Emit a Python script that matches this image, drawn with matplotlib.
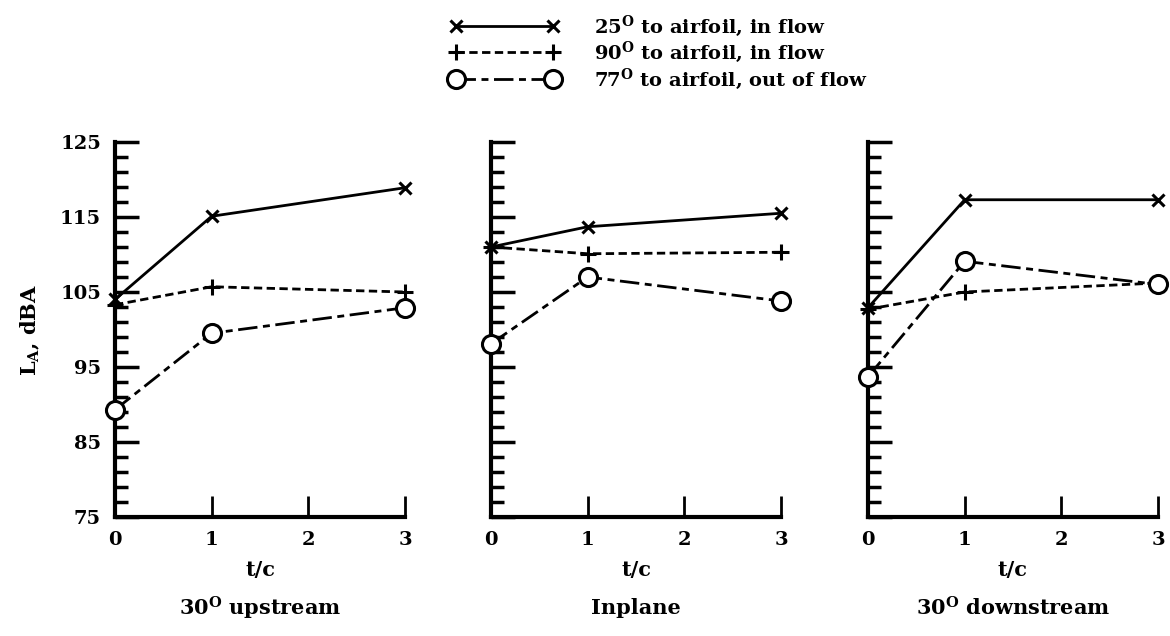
import matplotlib
matplotlib.use('Agg')
from matplotlib import pyplot as plt
from matplotlib.ticker import FixedLocator

plt.rcParams['font.family'] = 'DejaVu Serif'
plt.rcParams['font.weight'] = 'bold'
plt.rcParams['axes.labelweight'] = 'bold'
plt.rcParams['mathtext.fontset'] = 'dejavuserif'

# thickness ratio t/c
tc = [0, 1, 3]

panels = ["30$^\\mathbf{O}$ upstream", "Inplane", "30$^\\mathbf{O}$ downstream"]

# L_A (dBA) per microphone, one list per panel
mic25_in = [[104.0, 115.1, 118.9], [111.0, 113.7, 115.5], [102.9, 117.3, 117.3]]
mic90_in = [[103.3, 105.7, 105.0], [111.0, 110.1, 110.3], [102.7, 105.0, 106.2]]
mic77_out = [[89.3, 99.5, 102.9], [98.1, 107.0, 103.8], [93.7, 109.1, 106.0]]

labels = ["25$^\\mathbf{O}$ to airfoil, in flow",
          "90$^\\mathbf{O}$ to airfoil, in flow",
          "77$^\\mathbf{O}$ to airfoil, out of flow"]

yticks = [75, 85, 95, 105, 115, 125]
yminor = list(range(75, 126, 2))

fig = plt.figure(figsize=(11.7, 6.36), dpi=100)
lefts = [115 / 1170, 491 / 1170, 868 / 1170]
width = 290 / 1170
bottom = (636 - 517) / 636
height = 375 / 636

for i, left in enumerate(lefts):
    ax = fig.add_axes([left, bottom, width, height])
    h1, = ax.plot(tc, mic25_in[i], color='black', lw=2, ls='-',
                  marker='x', ms=8, mew=2.2, clip_on=False, zorder=3)
    h2, = ax.plot(tc, mic90_in[i], color='black', lw=2, ls=(0, (3, 1.6)),
                  marker='+', ms=11, mew=2.2, clip_on=False, zorder=3)
    h3, = ax.plot(tc, mic77_out[i], color='black', lw=2, ls=(0, (7, 2, 2.5, 2)),
                  marker='o', ms=13, mew=2.2, mfc='white', clip_on=False, zorder=4)
    ax.set_xlim(0, 3)
    ax.set_ylim(75, 125)
    for s in ['top', 'right']:
        ax.spines[s].set_visible(False)
    for s in ['left', 'bottom']:
        ax.spines[s].set_linewidth(3)
    ax.set_xticks([0, 1, 2, 3])
    ax.tick_params(axis='x', direction='in', length=15, width=2, labelsize=14, pad=10)
    ax.yaxis.set_major_locator(FixedLocator(yticks))
    ax.yaxis.set_minor_locator(FixedLocator(yminor))
    ax.tick_params(axis='y', which='major', direction='in', length=17, width=2.5, labelsize=14, pad=10)
    ax.tick_params(axis='y', which='minor', direction='in', length=9, width=2.5)
    if i > 0:
        ax.tick_params(axis='y', labelleft=False)
    ax.set_xlabel("t/c", fontsize=15, labelpad=8)
    fig.text(left + width / 2, 1 - 608 / 636, panels[i], ha='center', va='center', fontsize=15)

fig.text(30 / 1170, 1 - 330 / 636, "L$_\\mathbf{A}$, dBA", rotation=90,
         ha='center', va='center', fontsize=15)

fig.legend([h1, h2, h3], labels, loc='upper left', bbox_to_anchor=(450 / 1170, 1 - 14 / 636),
           frameon=False, numpoints=2, handlelength=5.6, handletextpad=1.8,
           labelspacing=0.05, borderpad=0, borderaxespad=0, fontsize=14)

fig.savefig("out.png", dpi=100)
